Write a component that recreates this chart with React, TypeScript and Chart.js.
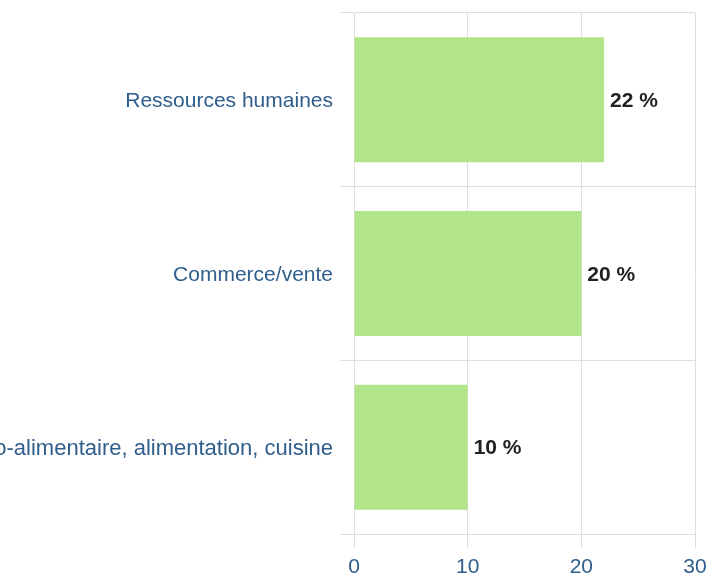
import React, { useEffect, useRef } from "react";
import { Chart, registerables } from "chart.js";

Chart.register(...registerables);

const categories = [
  "Ressources humaines",
  "Commerce/vente",
  "Agro-alimentaire, alimentation, cuisine",
];
const values = [22, 20, 10];
const xMin = 0;
const xMax = 30;
const xStep = 10;

const FONT = "Arial, 'Liberation Sans', sans-serif";
const BLUE = "#2f5e8c";
const GRID = "#dedede";
const BAR = "#b2e48a";

const valueLabels = {
  id: "valueLabels",
  afterDatasetsDraw(chart: any) {
    const ctx = chart.ctx;
    const meta = chart.getDatasetMeta(0);
    ctx.save();
    ctx.font = `bold 21px ${FONT}`;
    ctx.textBaseline = "middle";
    ctx.textAlign = "left";
    meta.data.forEach((bar: any, i: number) => {
      const text = `${values[i]} %`;
      const w = ctx.measureText(text).width;
      const x = bar.x + 6;
      const y = bar.y;
      ctx.fillStyle = "#ffffff";
      ctx.fillRect(bar.x + 1, y - 11, w + 8, 24);
      ctx.fillStyle = "#222222";
      ctx.fillText(text, x, y + 1.5);
    });
    ctx.restore();
  },
};

export default function App() {
  const ref = useRef<HTMLCanvasElement | null>(null);
  useEffect(() => {
    if (!ref.current) return;
    const chart = new Chart(ref.current, {
      type: "bar",
      data: {
        labels: categories,
        datasets: [
          {
            data: values,
            backgroundColor: BAR,
            borderWidth: 0,
            barPercentage: 0.9,
            categoryPercentage: 0.8,
          },
        ],
      },
      options: {
        indexAxis: "y",
        animation: false,
        responsive: true,
        maintainAspectRatio: false,
        layout: { padding: { top: 13, right: 16, bottom: 0, left: 0 } },
        plugins: {
          legend: { display: false },
          tooltip: { enabled: false },
        },
        scales: {
          x: {
            min: xMin,
            max: xMax,
            ticks: {
              stepSize: xStep,
              color: BLUE,
              font: { family: FONT, size: 21 },
              padding: 7,
            },
            grid: { color: GRID, tickLength: 14, lineWidth: 1 },
            border: { color: GRID },
            afterFit: (s: any) => {
              s.height = 40;
              s.paddingLeft = 0;
              s.paddingRight = 0;
            },
          },
          y: {
            ticks: {
              color: BLUE,
              font: (c: any) => ({
                family: FONT,
                size: String(categories[c.index] || "").length > 30 ? 22 : 21,
              }),
              padding: 7,
              labelOffset: 1.5,
              autoSkip: false,
            },
            grid: { color: GRID, tickLength: 14, offset: true },
            border: { color: GRID },
            afterFit: (s: any) => {
              s.width = 354;
              s.paddingTop = 0;
              s.paddingBottom = 0;
            },
          },
        },
      },
      plugins: [valueLabels],
    });
    return () => chart.destroy();
  }, []);
  return (
    <div
      style={{
        position: "fixed",
        left: 0,
        top: 0,
        width: 711,
        height: 574,
        background: "#fff",
      }}
    >
      <canvas ref={ref} />
    </div>
  );
}
